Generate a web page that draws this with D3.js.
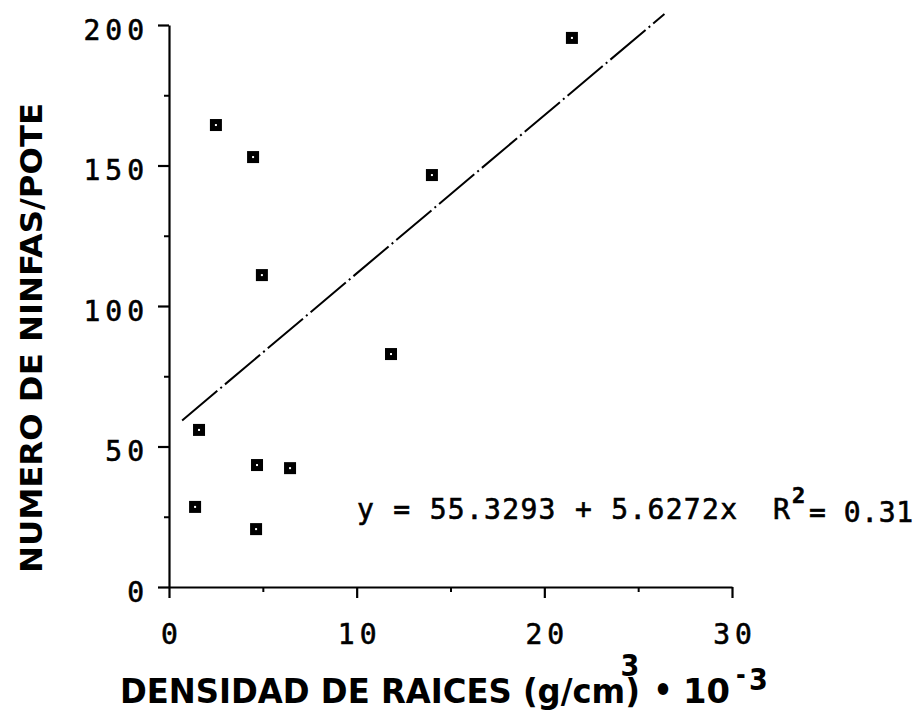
<!DOCTYPE html>
<html><head><meta charset="utf-8">
<script src="https://cdn.jsdelivr.net/npm/d3@7"></script>
<style>
html,body{margin:0;padding:0;background:#fff;}
svg{display:block;}
</style></head>
<body>
<svg id="c" width="921" height="715"></svg>
<script>
// ---- data ----
const xValues = [2.50, 4.48, 4.95, 21.47, 14.01, 11.83, 1.60, 4.69, 6.45, 1.39, 4.64];
const yValues = [164.4, 153.0, 111.0, 195.4, 146.6, 82.9, 55.9, 43.4, 42.3, 28.5, 20.6];
const xTickValues = [0, 10, 20, 30];
const xMinorTicks = [5, 15, 25];
const yTickValues = [0, 50, 100, 150, 200];
const yMinorTicks = [25, 75, 125, 175];
const intercept = 55.3293;
const slope = 5.6272;
const lineRange = [0.7, 26.4];
const equationText = "y = 55.3293 + 5.6272x";
const r2Text = "= 0.31";
const yTitle = "NUMERO DE NINFAS/POTE";
const xTitle = "DENSIDAD DE RAICES (g/cm)";

const svg = d3.select("#c");
const x = d3.scaleLinear().domain([0, 30]).range([169, 732]);
const y = d3.scaleLinear().domain([0, 200]).range([587, 25]);
const numFont = "'DejaVu Sans Mono', monospace";
const boldFont = "'DejaVu Sans Condensed', 'DejaVu Sans', sans-serif";

// x axis
const gx = svg.append("g").attr("transform", `translate(0,${y(0)})`)
  .call(d3.axisBottom(x).tickValues(xTickValues).tickSize(11).tickSizeOuter(0).tickPadding(26));
gx.select(".domain").attr("stroke-width", 2.2);
gx.selectAll(".tick line").attr("stroke-width", 2.2);
gx.selectAll(".tick text").attr("font-family", numFont).attr("font-size", 28)
  .attr("letter-spacing", 5).attr("dx", "2.5px").attr("fill", "#000")
  .attr("stroke", "#000").attr("stroke-width", 0.6);
svg.append("g").attr("transform", `translate(0,${y(0)})`)
  .call(d3.axisBottom(x).tickValues(xMinorTicks).tickSize(5).tickSizeOuter(0).tickFormat(""))
  .call(g => g.select(".domain").remove())
  .selectAll(".tick line").attr("stroke-width", 2);

// y axis
const gy = svg.append("g").attr("transform", `translate(${x(0)},0)`)
  .call(d3.axisLeft(y).tickValues(yTickValues).tickSize(11).tickSizeOuter(0).tickPadding(14));
gy.select(".domain").attr("stroke-width", 2.2);
gy.selectAll(".tick line").attr("stroke-width", 2.2);
gy.selectAll(".tick text").attr("font-family", numFont).attr("font-size", 28)
  .attr("letter-spacing", 5).attr("dx", "5px").attr("dy", "0.5em").attr("fill", "#000")
  .attr("stroke", "#000").attr("stroke-width", 0.6);
svg.append("g").attr("transform", `translate(${x(0)},0)`)
  .call(d3.axisLeft(y).tickValues(yMinorTicks).tickSize(5).tickSizeOuter(0).tickFormat(""))
  .call(g => g.select(".domain").remove())
  .selectAll(".tick line").attr("stroke-width", 2);
svg.selectAll(".domain").attr("stroke", "#000");

// regression line
svg.append("path")
  .datum(lineRange.map(v => [v, intercept + slope * v]))
  .attr("d", d3.line().x(d => x(d[0])).y(d => y(d[1])))
  .attr("fill", "none").attr("stroke", "#000").attr("stroke-width", 2)
  .attr("stroke-dasharray", "46,4,2,4");

// points
const pts = svg.append("g").selectAll("g").data(d3.zip(xValues, yValues)).join("g")
  .attr("transform", d => `translate(${x(d[0])},${y(d[1])})`);
pts.append("rect").attr("x", -6).attr("y", -6).attr("width", 12).attr("height", 12).attr("fill", "#000");
pts.append("rect").attr("x", -1).attr("y", -1).attr("width", 2).attr("height", 2).attr("fill", "#fff");

// equation
const eqStyle = sel => sel.attr("font-family", numFont).attr("fill", "#000")
  .attr("stroke", "#000").attr("stroke-width", 0.6);
svg.append("text").attr("x", 357).attr("y", 519).attr("font-size", 28)
  .attr("textLength", 380).attr("lengthAdjust", "spacing").call(eqStyle).text(equationText);
svg.append("text").attr("x", 773).attr("y", 519).attr("font-size", 28).call(eqStyle).text("R");
svg.append("text").attr("x", 792).attr("y", 503).attr("font-size", 22).attr("font-weight", "bold").call(eqStyle).text("2");
svg.append("text").attr("x", 809).attr("y", 522).attr("font-size", 28)
  .attr("textLength", 104).attr("lengthAdjust", "spacing").call(eqStyle).text(r2Text);

// y title
svg.append("text").attr("transform", "translate(42,338) rotate(-90)")
  .attr("text-anchor", "middle").attr("font-family", boldFont).attr("font-weight", "bold")
  .attr("font-size", 30).attr("textLength", 470).attr("lengthAdjust", "spacingAndGlyphs").text(yTitle);

// x title
svg.append("text").attr("x", 120).attr("y", 703).attr("font-family", boldFont).attr("font-weight", "bold")
  .attr("font-size", 33).attr("textLength", 520).attr("lengthAdjust", "spacingAndGlyphs").text(xTitle);
svg.append("text").attr("x", 630).attr("y", 676).attr("text-anchor", "middle").attr("font-family", boldFont)
  .attr("font-weight", "bold").attr("font-size", 30).text("3");
svg.append("text").attr("x", 663).attr("y", 702).attr("text-anchor", "middle").attr("font-family", boldFont)
  .attr("font-weight", "bold").attr("font-size", 33).text("•");
svg.append("text").attr("x", 683).attr("y", 703).attr("font-family", boldFont).attr("font-weight", "bold")
  .attr("font-size", 33).attr("textLength", 47).attr("lengthAdjust", "spacingAndGlyphs").text("10");
svg.append("text").attr("x", 736).attr("y", 684).attr("font-family", boldFont).attr("font-weight", "bold")
  .attr("font-size", 26).text("-");
svg.append("text").attr("x", 749).attr("y", 690).attr("font-family", boldFont).attr("font-weight", "bold")
  .attr("font-size", 30).text("3");
</script>
</body></html>
